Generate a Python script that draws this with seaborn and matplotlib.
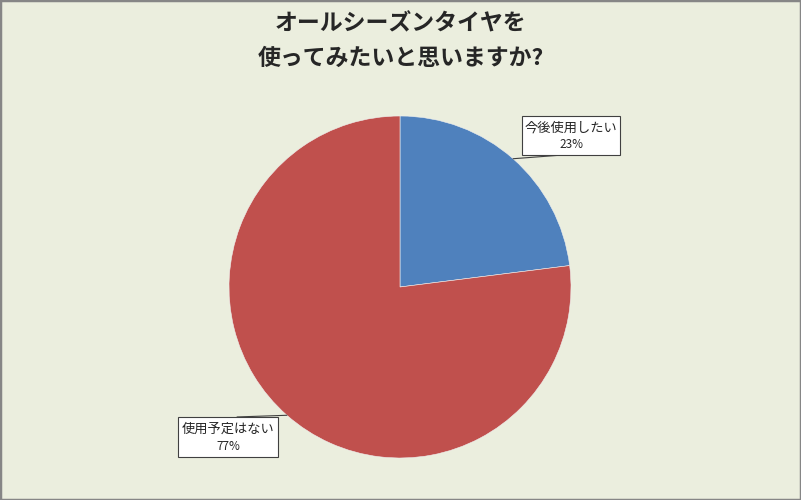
import numpy as np
import matplotlib
matplotlib.use("Agg")
import matplotlib.pyplot as plt
import seaborn as sns
from matplotlib.patches import Rectangle

# データ
labels = ["今後使用したい", "使用予定はない"]
shares = [23, 77]
colors = ["#4F81BD", "#C0504D"]
title = "オールシーズンタイヤを\n使ってみたいと思いますか?"

# ラベルの箱（円の半径を1とした座標: 左, 下, 幅, 高さ）と引出線の接続点
label_boxes = [(0.713, 0.772, 0.574, 0.228), (-1.298, -0.994, 0.585, 0.234)]
line_ends = [(0.953, 0.772), (-0.953, -0.760)]

sns.set_theme(style="white")
plt.rcParams["font.family"] = ["Noto Sans CJK JP", "DejaVu Sans"]

bg = "#EBEEDE"
fig = plt.figure(figsize=(8.01, 5.0), dpi=100, facecolor=bg)
fig.patches.append(Rectangle((0, 0), 1, 1, transform=fig.transFigure,
                             facecolor="none", edgecolor="#868686", linewidth=2.5))

ax = fig.add_axes([229 / 801, 42 / 500, 342 / 801, 342 / 500])
ax.set_facecolor(bg)
wedges, _ = ax.pie(shares, colors=colors, startangle=90, counterclock=False,
                   radius=1.0, wedgeprops=dict(edgecolor="#f0f0f0", linewidth=0.4))
ax.set_xlim(-1, 1)
ax.set_ylim(-1, 1)
ax.set_aspect("equal")
ax.axis("off")

for w, lab, val, box, end in zip(wedges, labels, shares, label_boxes, line_ends):
    mid = np.deg2rad((w.theta1 + w.theta2) / 2)
    edge = (np.cos(mid), np.sin(mid))
    x0, y0, bw, bh = box
    ax.add_patch(Rectangle((x0, y0), bw, bh, facecolor="white", edgecolor="#404040",
                           linewidth=0.8, clip_on=False, zorder=4))
    ax.plot([edge[0], end[0]], [edge[1], end[1]], color="#404040", linewidth=0.8,
            clip_on=False, zorder=3)
    cx = x0 + bw / 2
    ax.text(cx, y0 + bh * 0.70, lab, ha="center", va="center", fontsize=9.5,
            clip_on=False, zorder=5)
    ax.text(cx, y0 + bh * 0.27, f"{val}%", ha="center", va="center", fontsize=8.5,
            clip_on=False, zorder=5)

fig.text(0.5, 0.975, title, ha="center", va="top", fontsize=16.5,
         fontweight="bold", linespacing=1.65)

fig.savefig("out.png", dpi=100, facecolor=bg)
